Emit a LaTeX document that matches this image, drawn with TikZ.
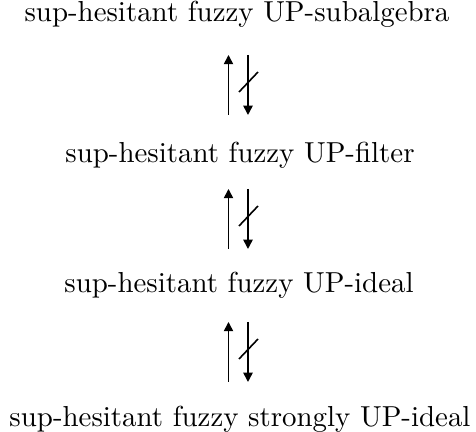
\documentclass[tikz,border=0pt]{standalone}
\usetikzlibrary{arrows.meta,calc}
\begin{document}
\begin{tikzpicture}[x=0.346pt,y=-0.346pt,
  label/.style={anchor=base,inner sep=0pt,font=\normalsize},
  imp/.style={line width=0.55pt,-{Triangle[length=3.2pt,width=3.2pt]}},
  slash/.style={line width=0.55pt}]
\useasboundingbox (0,0) rectangle (476,432);

% the four notions, strongest at the bottom
\node[label] (sub) at (237,22) {sup-hesitant fuzzy UP-subalgebra};
\node[label] (fil) at (240,163) {sup-hesitant fuzzy UP-filter};
\node[label] (ide) at (239,293) {sup-hesitant fuzzy UP-ideal};
\node[label] (str) at (240,427) {sup-hesitant fuzzy strongly UP-ideal};

% arrow end points between consecutive rows
\foreach \k/\t/\b in {1/55/115, 2/189/249, 3/322/382}{
  \coordinate (up\k a) at (228.5,\b);
  \coordinate (up\k b) at (228.5,\t);
  \coordinate (dn\k a) at (248,\t);
  \coordinate (dn\k b) at (248,\b);
  \coordinate (cut\k) at (248,{(\t+\b)/2});
}

% implication upward, non-implication downward (struck through)
\foreach \k in {1,2,3}{
  \draw[imp] (up\k a) -- (up\k b);
  \draw[imp] (dn\k a) -- (dn\k b);
  \draw[slash] ($(cut\k)+(-9,7)$) -- ($(cut\k)+(10,-13)$);
}
\end{tikzpicture}
\end{document}
